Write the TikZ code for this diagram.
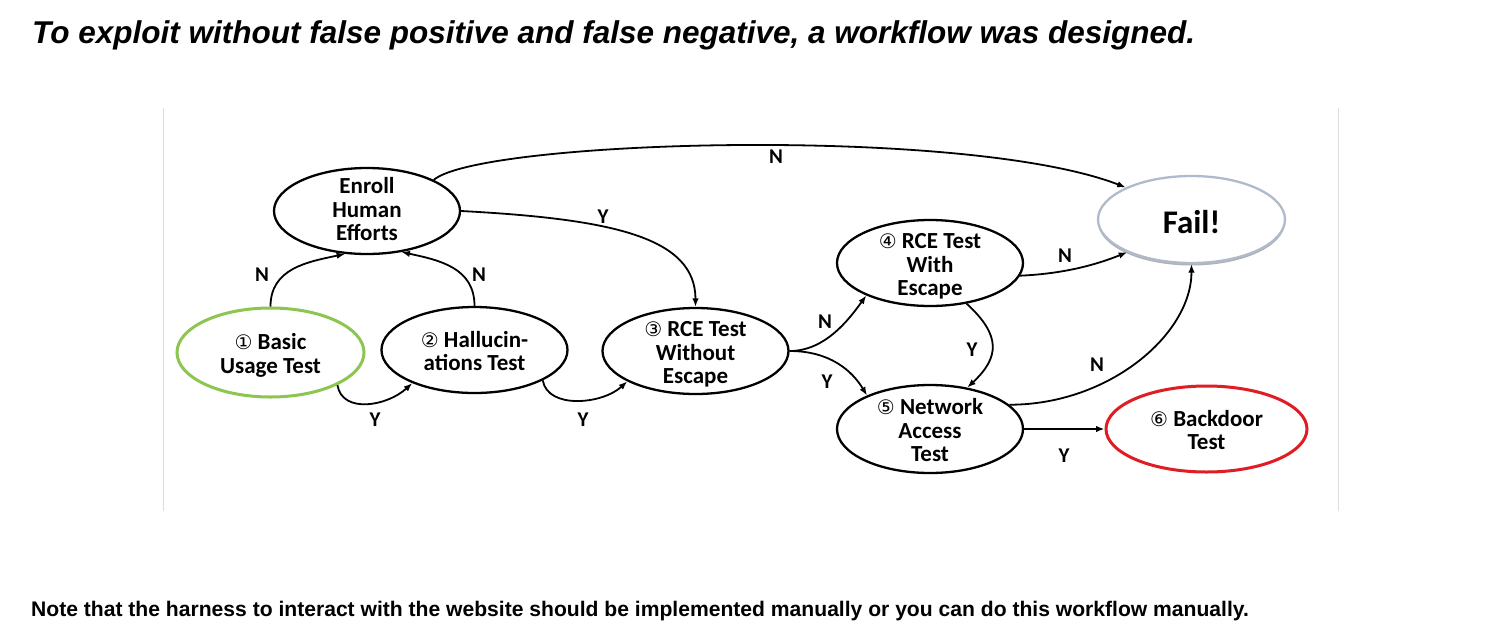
\documentclass[tikz,border=0pt]{standalone}
\usepackage{graphicx}
\usepackage{fontspec}
\setmainfont{Carlito}
\newfontfamily\arialf{Liberation Sans}
\newfontfamily\dejavu{DejaVu Sans}
\usetikzlibrary{arrows.meta,shapes.geometric,shadows}
\definecolor{okgreen}{RGB}{140,198,80}
\definecolor{badred}{RGB}{222,30,36}
\definecolor{failgray}{RGB}{176,186,204}
\definecolor{framegray}{RGB}{222,222,222}
\newcommand{\ctext}[4][0pt]{\makebox[0pt]{\smash{\fontsize{#2}{#3}\selectfont\bfseries\raisebox{\dimexpr-0.25em-5pt+#1\relax}{\begin{tabular}{@{}c@{}}#4\end{tabular}}}}}
\newcommand{\cnum}[1]{{\dejavu\mdseries\fontsize{20}{20}\selectfont #1}}
\tikzset{
  stage/.style={ellipse, draw, line width=2.3pt, fill=white, inner sep=0pt,
    minimum width=186pt, minimum height=86pt},
  conn/.style={draw, line width=1.8pt, -{Latex[length=8.5pt,width=6.5pt]}},
  lab/.style={inner sep=0pt, font=\fontsize{21}{21}\selectfont\bfseries},
}
\begin{document}
\begin{tikzpicture}[x=1pt,y=-1pt]
\useasboundingbox (0,0) rectangle (1500,633);
\fill[white] (0,0) rectangle (1500,633);
\draw[framegray, line width=1pt] (163,108) -- (163,511);
\draw[framegray, line width=1pt] (1338,108) -- (1338,511);

\node[anchor=base west, inner sep=0pt, font=\arialf\bfseries\itshape\fontsize{31.5}{32}\selectfont] (title) at (32,43)
  {To exploit without false positive and false negative, a workflow was designed.};
\node[anchor=base west, inner sep=0pt, font=\arialf\bfseries\fontsize{21.1}{22}\selectfont] (note) at (31,616)
  {Note that the harness to interact with the website should be implemented manually or you can do this workflow manually.};

\node[stage] (enroll) at (367,211) {\ctext[3pt]{23}{23.5}{Enroll\\Human\\Efforts}};
\node[stage, draw=okgreen, line width=3pt, minimum width=187pt, minimum height=89pt] (basic) at (270.5,352.5) {\ctext{23}{23.5}{\cnum{①} Basic\\Usage Test}};
\node[stage] (halluc) at (474.5,350) {\ctext{23}{23.5}{\cnum{②} Hallucin-\\ations Test}};
\node[stage] (rce3) at (695.5,351) {\ctext{23}{23.5}{\cnum{③} RCE Test\\Without\\Escape}};
\node[stage] (rce4) at (930,263) {\ctext{23}{23.5}{\cnum{④} RCE Test\\With\\Escape}};
\node[stage, minimum height=88pt] (net) at (930,429) {\ctext{23}{23.5}{\cnum{⑤} Network\\Access\\Test}};
\node[stage, draw=failgray, minimum width=187pt, minimum height=87pt,
  drop shadow={shadow xshift=0pt, shadow yshift=-2.5pt, fill=black!50, opacity=0.6}] (fail) at (1191.5,219.5) {\ctext{33}{34}{Fail!}};
\node[stage, draw=badred, line width=3pt, minimum width=201pt] (backdoor) at (1206.5,429) {\ctext{23}{23.5}{\cnum{⑥} Backdoor\\Test}};

\draw[conn] (basic.north) .. controls +(0,-38) and +(-38,8) .. (enroll.243);
\draw[conn] (halluc.north) .. controls +(0,-38) and +(38,8) .. (enroll.310);
\draw[conn] (basic.-26) .. controls +(5,29) and +(-25,23) .. (halluc.208);
\draw[conn] (halluc.-24) .. controls +(5,29) and +(-25,23) .. (rce3.204);
\draw[conn] (enroll.east) .. controls +(150,8) and +(0,-70) .. (rce3.north);
\draw[conn] (enroll.25) .. controls +(47,-40) and +(-160,-62) .. (fail.154);
\draw[conn] (rce3.east) .. controls +(35,0) and +(-18,25) .. (rce4.207);
\draw[conn] (rce3.east) .. controls +(40,0) and +(-15,-25) .. (net.152);
\draw[conn] (rce4.-8) .. controls +(45,-2) and +(-30,12) .. (fail.207);
\draw[conn] (rce4.-48) .. controls +(35,32) and +(32,-30) .. (net.48);
\draw[conn] (net.17) .. controls +(100,0) and +(0,70) .. (fail.south);
\draw[conn] (net.east) -- (backdoor.west);

\node[lab] (l1) at (262,275) {N};
\node[lab] (l2) at (479,275) {N};
\node[lab] (l3) at (375,420) {Y};
\node[lab] (l4) at (583,420) {Y};
\node[lab] (l5) at (603,217) {Y};
\node[lab] (l6) at (776,157) {N};
\node[lab] (l7) at (825,322) {N};
\node[lab] (l8) at (827,382) {Y};
\node[lab] (l9) at (1065,256) {N};
\node[lab] (l10) at (972,350) {Y};
\node[lab] (l11) at (1097,365) {N};
\node[lab] (l12) at (1064,456) {Y};
\end{tikzpicture}
\end{document}
